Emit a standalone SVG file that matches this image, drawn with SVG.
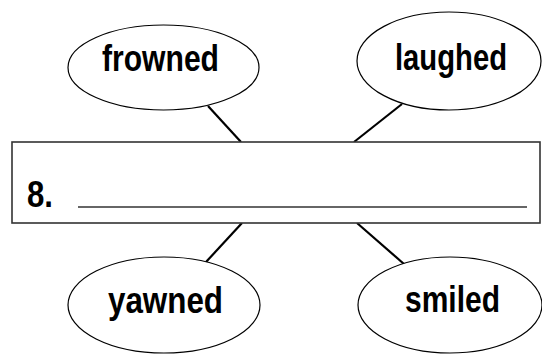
<svg xmlns="http://www.w3.org/2000/svg" width="542" height="354" viewBox="0 0 542 354">
<style>
.bg{fill:#fff}
.oval{fill:#fff;stroke:#000;stroke-width:1.2}
.lbl{font-family:"Liberation Sans",Arial,sans-serif;font-weight:bold;font-size:37px;fill:#000}
.conn{stroke:#000;stroke-width:2.2;fill:none}
.box{fill:#fff;stroke:#333;stroke-width:1.6}
.blank{stroke:#333;stroke-width:1.6}
</style>
<rect class="bg" x="0" y="0" width="542" height="354"/>
<g id="connectors">
<line class="conn" x1="208" y1="106" x2="241" y2="142"/>
<line class="conn" x1="402" y1="104" x2="354" y2="142"/>
<line class="conn" x1="242" y1="223" x2="206" y2="262"/>
<line class="conn" x1="357" y1="223" x2="404" y2="264"/>
</g>
<g id="frowned">
<ellipse class="oval" cx="163.5" cy="67.5" rx="95.5" ry="42.5"/>
<text class="lbl" x="102" y="71" textLength="117" lengthAdjust="spacingAndGlyphs">frowned</text>
</g>
<g id="laughed">
<ellipse class="oval" cx="449" cy="61" rx="92" ry="49"/>
<text class="lbl" x="395" y="70" textLength="112" lengthAdjust="spacingAndGlyphs">laughed</text>
</g>
<g id="center">
<rect class="box" x="12" y="142" width="528" height="81"/>
<text class="lbl" x="27" y="207" textLength="26" lengthAdjust="spacingAndGlyphs">8.</text>
<line class="blank" x1="78" y1="207" x2="527" y2="207"/>
</g>
<g id="yawned">
<ellipse class="oval" cx="164" cy="305" rx="96" ry="48"/>
<text class="lbl" x="108" y="313" textLength="115" lengthAdjust="spacingAndGlyphs">yawned</text>
</g>
<g id="smiled">
<ellipse class="oval" cx="450" cy="305" rx="92" ry="48"/>
<text class="lbl" x="405" y="312" textLength="95" lengthAdjust="spacingAndGlyphs">smiled</text>
</g>
</svg>
